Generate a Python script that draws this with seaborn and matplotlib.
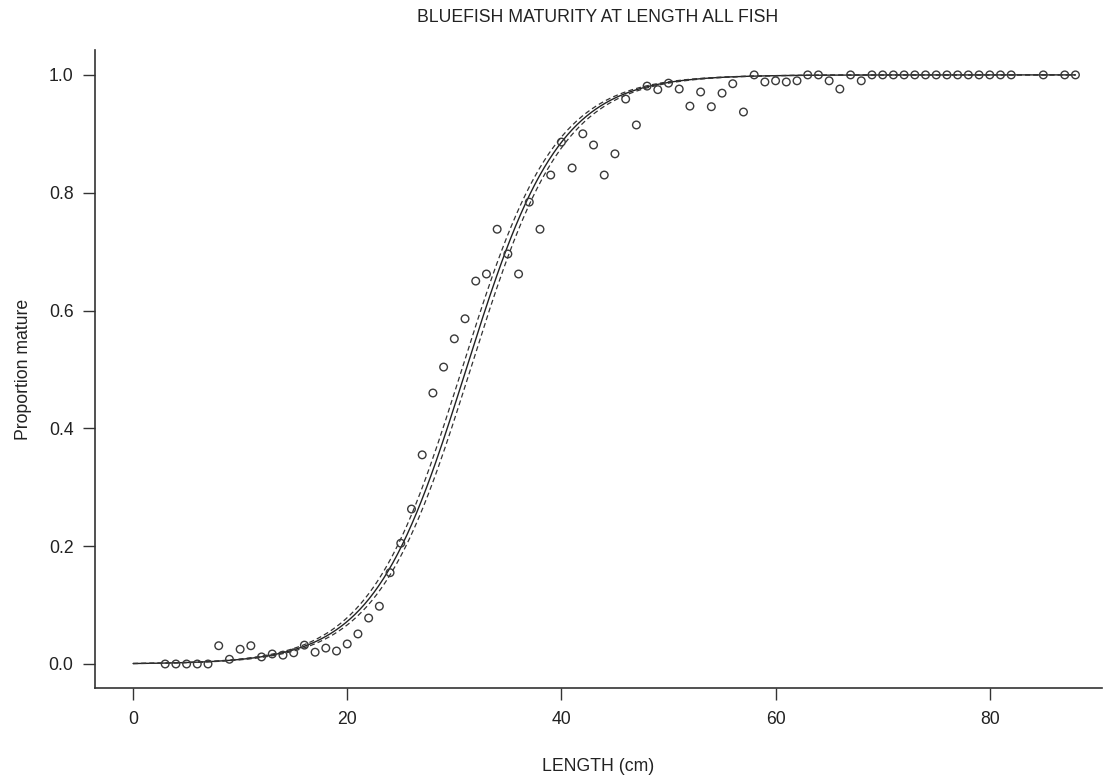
import numpy as np
import pandas as pd
import matplotlib
matplotlib.use("Agg")
import matplotlib.pyplot as plt
import seaborn as sns

# observed proportion mature by length class
length_cm = [3, 4, 5, 6, 7, 8, 9, 10, 11, 12, 13, 14, 15, 16, 17, 18, 19, 20,
             21, 22, 23, 24, 25, 26, 27, 28, 29, 30, 31, 32, 33, 34, 35, 36, 37,
             38, 39, 40, 41, 42, 43, 44, 45, 46, 47, 48, 49, 50, 51, 52, 53, 54,
             55, 56, 57, 58, 59, 60, 61, 62, 63, 64, 65, 66, 67, 68, 69, 70, 71,
             72, 73, 74, 75, 76, 77, 78, 79, 80, 81, 82, 85, 87, 88]
prop_mature = [0.0, 0.0, 0.0, 0.0, 0.0, 0.031, 0.008, 0.025, 0.031, 0.012,
               0.017, 0.015, 0.019, 0.032, 0.020, 0.027, 0.022, 0.034, 0.051,
               0.078, 0.098, 0.155, 0.205, 0.263, 0.355, 0.460, 0.504, 0.552,
               0.586, 0.650, 0.662, 0.738, 0.696, 0.662, 0.784, 0.738, 0.830,
               0.886, 0.842, 0.900, 0.881, 0.830, 0.866, 0.959, 0.915, 0.981,
               0.975, 0.986, 0.976, 0.947, 0.971, 0.946, 0.969, 0.985, 0.937,
               1.0, 0.988, 0.990, 0.988, 0.990, 1.0, 1.0, 0.990, 0.976, 1.0,
               0.990, 1.0, 1.0, 1.0, 1.0, 1.0, 1.0, 1.0, 1.0, 1.0, 1.0, 1.0,
               1.0, 1.0, 1.0, 1.0, 1.0, 1.0]

# fitted logistic ogive (L50, slope) and its confidence bounds on L50
l50 = 31.1
slope = 0.23
l50_lower = 30.7
l50_upper = 31.5

df = pd.DataFrame({"length": length_cm, "prop": prop_mature})

grid = np.linspace(0, 88, 400)
fit = pd.DataFrame({
    "length": grid,
    "fit": 1 / (1 + np.exp(-slope * (grid - l50))),
    "upper": 1 / (1 + np.exp(-slope * (grid - l50_lower))),
    "lower": 1 / (1 + np.exp(-slope * (grid - l50_upper))),
})

sns.set_style("ticks")
plt.rcParams["font.family"] = ["Liberation Sans", "DejaVu Sans"]

fig = plt.figure(figsize=(11.05, 7.8), dpi=100)
ax = fig.add_axes([0.086, 0.118, 0.911, 0.818])

sns.lineplot(data=fit, x="length", y="fit", color="#222222", lw=1.0, ax=ax)
sns.lineplot(data=fit, x="length", y="upper", color="#333333", lw=0.9,
             linestyle=(0, (4, 2.5)), ax=ax)
sns.lineplot(data=fit, x="length", y="lower", color="#333333", lw=0.9,
             linestyle=(0, (4, 2.5)), ax=ax)
sns.scatterplot(data=df, x="length", y="prop", marker="o", s=30,
                facecolor="none", edgecolor="#3a3a3a", linewidth=1.0,
                ax=ax, zorder=3)

ax.set_xlim(-3.55, 90.45)
ax.set_ylim(-0.0407, 1.0424)
ax.set_xticks([0, 20, 40, 60, 80])
ax.set_yticks([0.0, 0.2, 0.4, 0.6, 0.8, 1.0])
ax.set_yticklabels(["0.0", "0.2", "0.4", "0.6", "0.8", "1.0"])
ax.tick_params(length=8.5, width=1, color="#333333", labelsize=12.7,
               labelcolor="#222222")
ax.tick_params(axis="y", pad=7)
ax.tick_params(axis="x", pad=8)
for s in ["left", "bottom"]:
    ax.spines[s].set_color("#333333")
    ax.spines[s].set_linewidth(1.2)
sns.despine(ax=ax)

ax.set_xlabel("LENGTH (cm)", fontsize=12.7, color="#222222", labelpad=22)
ax.set_ylabel("Proportion mature", fontsize=12.7, color="#222222", labelpad=12)
fig.text(0.541, 0.977, "BLUEFISH MATURITY AT LENGTH ALL FISH",
         ha="center", va="center", fontsize=12.7, color="#222222")

fig.savefig("out.png", dpi=100)
